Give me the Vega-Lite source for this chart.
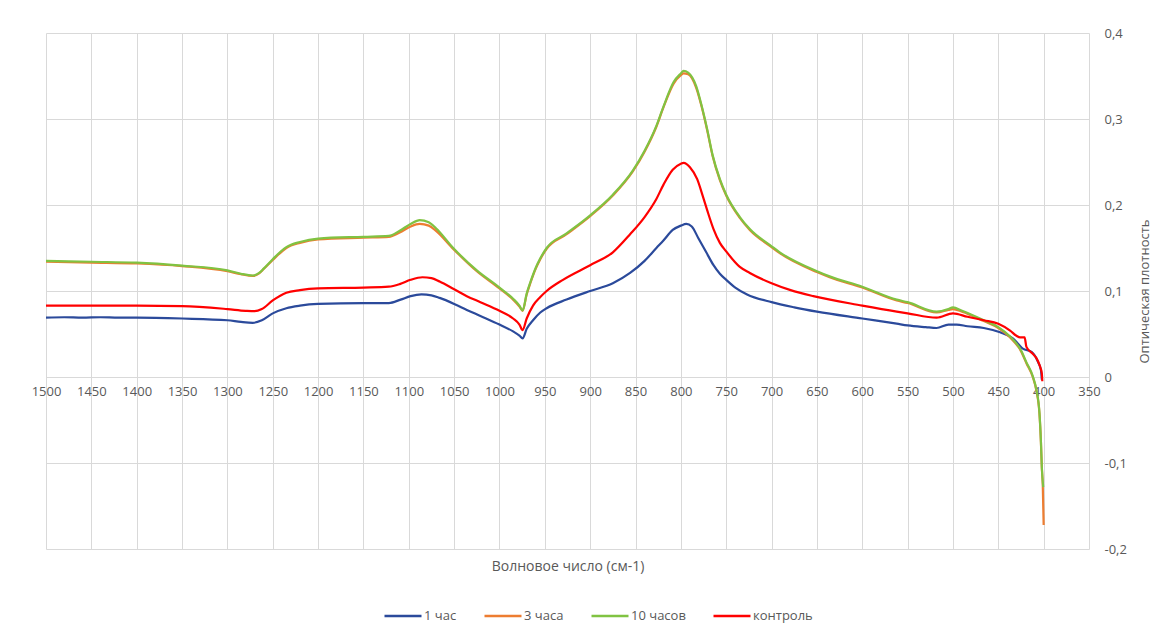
{
  "$schema": "https://vega.github.io/schema/vega-lite/v6.json",
  "width": 1043,
  "height": 516,
  "autosize": {"type": "none"},
  "padding": {"left": 46, "top": 33, "right": 78, "bottom": 88},
  "background": "white",
  "config": {
    "view": {"stroke": null},
    "font": "Open Sans",
    "axis": {"labelColor": "#595959", "titleColor": "#595959", "gridColor": "#d9d9d9", "gridWidth": 1, "domain": false, "ticks": false, "labelFontSize": 13, "titleFontWeight": "normal", "titleFontSize": 14},
    "legend": {"labelColor": "#595959", "labelFontSize": 13}
  },
  "data": {"values": [
    {"series":"1 час","wn":1500,"od":0.069},{"series":"1 час","wn":1480,"od":0.0695},{"series":"1 час","wn":1460,"od":0.069},{"series":"1 час","wn":1440,"od":0.0695},{"series":"1 час","wn":1420,"od":0.069},{"series":"1 час","wn":1400,"od":0.069},{"series":"1 час","wn":1350,"od":0.068},{"series":"1 час","wn":1300,"od":0.066},{"series":"1 час","wn":1285,"od":0.064},{"series":"1 час","wn":1272,"od":0.063},{"series":"1 час","wn":1262,"od":0.066},{"series":"1 час","wn":1250,"od":0.074},{"series":"1 час","wn":1235,"od":0.08},{"series":"1 час","wn":1220,"od":0.083},{"series":"1 час","wn":1200,"od":0.085},{"series":"1 час","wn":1150,"od":0.086},{"series":"1 час","wn":1122,"od":0.086},{"series":"1 час","wn":1109,"od":0.09},{"series":"1 час","wn":1098,"od":0.094},{"series":"1 час","wn":1086,"od":0.096},{"series":"1 час","wn":1075,"od":0.095},{"series":"1 час","wn":1066,"od":0.092},{"series":"1 час","wn":1050,"od":0.085},{"series":"1 час","wn":1036,"od":0.078},{"series":"1 час","wn":1021,"od":0.071},{"series":"1 час","wn":1000,"od":0.061},{"series":"1 час","wn":985,"od":0.053},{"series":"1 час","wn":978,"od":0.048},{"series":"1 час","wn":974.5,"od":0.045},{"series":"1 час","wn":970,"od":0.056},{"series":"1 час","wn":963,"od":0.066},{"series":"1 час","wn":955,"od":0.075},{"series":"1 час","wn":948,"od":0.08},{"series":"1 час","wn":926,"od":0.09},{"series":"1 час","wn":900,"od":0.1},{"series":"1 час","wn":875,"od":0.109},{"series":"1 час","wn":856,"od":0.121},{"series":"1 час","wn":840,"od":0.135},{"series":"1 час","wn":827,"od":0.15},{"series":"1 час","wn":819,"od":0.159},{"series":"1 час","wn":809,"od":0.171},{"series":"1 час","wn":800,"od":0.176},{"series":"1 час","wn":794,"od":0.178},{"series":"1 час","wn":788,"od":0.175},{"series":"1 час","wn":781,"od":0.162},{"series":"1 час","wn":772,"od":0.145},{"series":"1 час","wn":764,"od":0.13},{"series":"1 час","wn":757,"od":0.12},{"series":"1 час","wn":750,"od":0.113},{"series":"1 час","wn":740,"od":0.104},{"series":"1 час","wn":727,"od":0.096},{"series":"1 час","wn":700,"od":0.087},{"series":"1 час","wn":675,"od":0.081},{"series":"1 час","wn":650,"od":0.076},{"series":"1 час","wn":600,"od":0.068},{"series":"1 час","wn":562,"od":0.062},{"series":"1 час","wn":550,"od":0.06},{"series":"1 час","wn":530,"od":0.058},{"series":"1 час","wn":518,"od":0.057},{"series":"1 час","wn":505,"od":0.061},{"series":"1 час","wn":496,"od":0.061},{"series":"1 час","wn":484,"od":0.059},{"series":"1 час","wn":466,"od":0.057},{"series":"1 час","wn":448,"od":0.052},{"series":"1 час","wn":434,"od":0.045},{"series":"1 час","wn":423,"od":0.033},{"series":"1 час","wn":413,"od":0.029},{"series":"1 час","wn":406,"od":0.017},{"series":"1 час","wn":403,"od":0.008},{"series":"1 час","wn":402,"od":-0.003},

    {"series":"3 часа","wn":1500,"od":0.134},{"series":"3 часа","wn":1450,"od":0.133},{"series":"3 часа","wn":1400,"od":0.132},{"series":"3 часа","wn":1350,"od":0.129},{"series":"3 часа","wn":1300,"od":0.123},{"series":"3 часа","wn":1285,"od":0.1195},{"series":"3 часа","wn":1272,"od":0.1175},{"series":"3 часа","wn":1265,"od":0.1205},{"series":"3 часа","wn":1260,"od":0.1255},{"series":"3 часа","wn":1250,"od":0.136},{"series":"3 часа","wn":1235,"od":0.15},{"series":"3 часа","wn":1220,"od":0.156},{"series":"3 часа","wn":1200,"od":0.16},{"series":"3 часа","wn":1150,"od":0.162},{"series":"3 часа","wn":1122,"od":0.163},{"series":"3 часа","wn":1110,"od":0.168},{"series":"3 часа","wn":1098,"od":0.175},{"series":"3 часа","wn":1088,"od":0.178},{"series":"3 часа","wn":1078,"od":0.176},{"series":"3 часа","wn":1070,"od":0.17},{"series":"3 часа","wn":1051,"od":0.149},{"series":"3 часа","wn":1025,"od":0.123},{"series":"3 часа","wn":1000,"od":0.103},{"series":"3 часа","wn":985,"od":0.09},{"series":"3 часа","wn":978,"od":0.082},{"series":"3 часа","wn":974.5,"od":0.077},{"series":"3 часа","wn":970,"od":0.096},{"series":"3 часа","wn":966,"od":0.109},{"series":"3 часа","wn":960,"od":0.126},{"series":"3 часа","wn":955,"od":0.137},{"series":"3 часа","wn":948,"od":0.149},{"series":"3 часа","wn":926,"od":0.166},{"series":"3 часа","wn":900,"od":0.187},{"series":"3 часа","wn":875,"od":0.211},{"series":"3 часа","wn":853,"od":0.239},{"series":"3 часа","wn":840,"od":0.262},{"series":"3 часа","wn":827,"od":0.291},{"series":"3 часа","wn":819,"od":0.314},{"series":"3 часа","wn":808,"od":0.341},{"series":"3 часа","wn":800,"od":0.351},{"series":"3 часа","wn":797,"od":0.353},{"series":"3 часа","wn":792,"od":0.352},{"series":"3 часа","wn":783,"od":0.336},{"series":"3 часа","wn":777,"od":0.314},{"series":"3 часа","wn":771,"od":0.287},{"series":"3 часа","wn":765,"od":0.257},{"series":"3 часа","wn":757,"od":0.229},{"series":"3 часа","wn":750,"od":0.211},{"series":"3 часа","wn":735,"od":0.185},{"series":"3 часа","wn":724,"od":0.171},{"series":"3 часа","wn":700,"od":0.151},{"series":"3 часа","wn":691,"od":0.144},{"series":"3 часа","wn":650,"od":0.122},{"series":"3 часа","wn":636,"od":0.116},{"series":"3 часа","wn":600,"od":0.104},{"series":"3 часа","wn":562,"od":0.089},{"series":"3 часа","wn":550,"od":0.086},{"series":"3 часа","wn":518,"od":0.075},{"series":"3 часа","wn":505,"od":0.078},{"series":"3 часа","wn":500,"od":0.079},{"series":"3 часа","wn":490,"od":0.076},{"series":"3 часа","wn":466,"od":0.065},{"series":"3 часа","wn":450,"od":0.057},{"series":"3 часа","wn":437,"od":0.046},{"series":"3 часа","wn":425,"od":0.03},{"series":"3 часа","wn":419,"od":0.016},{"series":"3 часа","wn":412,"od":0.0},{"series":"3 часа","wn":408,"od":-0.016},{"series":"3 часа","wn":404.6,"od":-0.043},{"series":"3 часа","wn":403,"od":-0.076},{"series":"3 часа","wn":402,"od":-0.106},{"series":"3 часа","wn":401,"od":-0.125},{"series":"3 часа","wn":400,"od":-0.172},

    {"series":"10 часов","wn":1500,"od":0.135},{"series":"10 часов","wn":1450,"od":0.134},{"series":"10 часов","wn":1400,"od":0.133},{"series":"10 часов","wn":1350,"od":0.1295},{"series":"10 часов","wn":1300,"od":0.124},{"series":"10 часов","wn":1285,"od":0.12},{"series":"10 часов","wn":1272,"od":0.118},{"series":"10 часов","wn":1265,"od":0.121},{"series":"10 часов","wn":1260,"od":0.126},{"series":"10 часов","wn":1250,"od":0.137},{"series":"10 часов","wn":1235,"od":0.151},{"series":"10 часов","wn":1220,"od":0.157},{"series":"10 часов","wn":1200,"od":0.161},{"series":"10 часов","wn":1150,"od":0.163},{"series":"10 часов","wn":1122,"od":0.164},{"series":"10 часов","wn":1110,"od":0.17},{"series":"10 часов","wn":1098,"od":0.178},{"series":"10 часов","wn":1088,"od":0.1825},{"series":"10 часов","wn":1078,"od":0.18},{"series":"10 часов","wn":1070,"od":0.173},{"series":"10 часов","wn":1051,"od":0.15},{"series":"10 часов","wn":1025,"od":0.124},{"series":"10 часов","wn":1000,"od":0.104},{"series":"10 часов","wn":985,"od":0.091},{"series":"10 часов","wn":978,"od":0.083},{"series":"10 часов","wn":974.5,"od":0.0775},{"series":"10 часов","wn":970,"od":0.097},{"series":"10 часов","wn":966,"od":0.11},{"series":"10 часов","wn":960,"od":0.127},{"series":"10 часов","wn":955,"od":0.138},{"series":"10 часов","wn":948,"od":0.15},{"series":"10 часов","wn":926,"od":0.167},{"series":"10 часов","wn":900,"od":0.188},{"series":"10 часов","wn":875,"od":0.212},{"series":"10 часов","wn":853,"od":0.24},{"series":"10 часов","wn":840,"od":0.263},{"series":"10 часов","wn":827,"od":0.292},{"series":"10 часов","wn":819,"od":0.315},{"series":"10 часов","wn":808,"od":0.343},{"series":"10 часов","wn":800,"od":0.353},{"series":"10 часов","wn":797,"od":0.356},{"series":"10 часов","wn":792,"od":0.354},{"series":"10 часов","wn":783,"od":0.338},{"series":"10 часов","wn":777,"od":0.315},{"series":"10 часов","wn":771,"od":0.288},{"series":"10 часов","wn":765,"od":0.258},{"series":"10 часов","wn":757,"od":0.23},{"series":"10 часов","wn":750,"od":0.212},{"series":"10 часов","wn":735,"od":0.186},{"series":"10 часов","wn":724,"od":0.172},{"series":"10 часов","wn":700,"od":0.152},{"series":"10 часов","wn":691,"od":0.145},{"series":"10 часов","wn":650,"od":0.123},{"series":"10 часов","wn":636,"od":0.117},{"series":"10 часов","wn":600,"od":0.105},{"series":"10 часов","wn":562,"od":0.09},{"series":"10 часов","wn":550,"od":0.087},{"series":"10 часов","wn":518,"od":0.076},{"series":"10 часов","wn":505,"od":0.079},{"series":"10 часов","wn":500,"od":0.081},{"series":"10 часов","wn":490,"od":0.077},{"series":"10 часов","wn":466,"od":0.066},{"series":"10 часов","wn":450,"od":0.058},{"series":"10 часов","wn":437,"od":0.047},{"series":"10 часов","wn":425,"od":0.031},{"series":"10 часов","wn":419,"od":0.017},{"series":"10 часов","wn":412,"od":0.001},{"series":"10 часов","wn":408,"od":-0.015},{"series":"10 часов","wn":404.6,"od":-0.042},{"series":"10 часов","wn":403,"od":-0.075},{"series":"10 часов","wn":402,"od":-0.105},{"series":"10 часов","wn":400.5,"od":-0.128},

    {"series":"контроль","wn":1500,"od":0.083},{"series":"контроль","wn":1450,"od":0.083},{"series":"контроль","wn":1400,"od":0.083},{"series":"контроль","wn":1350,"od":0.0825},{"series":"контроль","wn":1300,"od":0.079},{"series":"контроль","wn":1280,"od":0.077},{"series":"контроль","wn":1270,"od":0.0765},{"series":"контроль","wn":1262,"od":0.079},{"series":"контроль","wn":1250,"od":0.089},{"series":"контроль","wn":1235,"od":0.098},{"series":"контроль","wn":1220,"od":0.101},{"series":"контроль","wn":1200,"od":0.103},{"series":"контроль","wn":1150,"od":0.104},{"series":"контроль","wn":1122,"od":0.105},{"series":"контроль","wn":1110,"od":0.108},{"series":"контроль","wn":1098,"od":0.113},{"series":"контроль","wn":1085,"od":0.116},{"series":"контроль","wn":1075,"od":0.115},{"series":"контроль","wn":1066,"od":0.111},{"series":"контроль","wn":1050,"od":0.102},{"series":"контроль","wn":1036,"od":0.094},{"series":"контроль","wn":1021,"od":0.087},{"series":"контроль","wn":1000,"od":0.077},{"series":"контроль","wn":985,"od":0.068},{"series":"контроль","wn":978,"od":0.061},{"series":"контроль","wn":974.5,"od":0.0545},{"series":"контроль","wn":970,"od":0.068},{"series":"контроль","wn":963,"od":0.083},{"series":"контроль","wn":955,"od":0.093},{"series":"контроль","wn":948,"od":0.1},{"series":"контроль","wn":930,"od":0.113},{"series":"контроль","wn":900,"od":0.13},{"series":"контроль","wn":875,"od":0.145},{"series":"контроль","wn":856,"od":0.166},{"series":"контроль","wn":840,"od":0.186},{"series":"контроль","wn":827,"od":0.207},{"series":"контроль","wn":819,"od":0.224},{"series":"контроль","wn":809,"od":0.241},{"series":"контроль","wn":800,"od":0.248},{"series":"контроль","wn":797,"od":0.249},{"series":"контроль","wn":790,"od":0.244},{"series":"контроль","wn":782,"od":0.23},{"series":"контроль","wn":776,"od":0.211},{"series":"контроль","wn":771,"od":0.194},{"series":"контроль","wn":764,"od":0.172},{"series":"контроль","wn":757,"od":0.156},{"series":"контроль","wn":750,"od":0.146},{"series":"контроль","wn":735,"od":0.128},{"series":"контроль","wn":724,"od":0.121},{"series":"контроль","wn":700,"od":0.109},{"series":"контроль","wn":679,"od":0.101},{"series":"контроль","wn":654,"od":0.094},{"series":"контроль","wn":600,"od":0.083},{"series":"контроль","wn":562,"od":0.076},{"series":"контроль","wn":550,"od":0.074},{"series":"контроль","wn":518,"od":0.069},{"series":"контроль","wn":500,"od":0.074},{"series":"контроль","wn":484,"od":0.07},{"series":"контроль","wn":466,"od":0.066},{"series":"контроль","wn":450,"od":0.062},{"series":"контроль","wn":437,"od":0.054},{"series":"контроль","wn":430,"od":0.048},{"series":"контроль","wn":426,"od":0.046},{"series":"контроль","wn":421,"od":0.046},{"series":"контроль","wn":419,"od":0.035},{"series":"контроль","wn":412,"od":0.027},{"series":"контроль","wn":408,"od":0.022},{"series":"контроль","wn":404.6,"od":0.014},{"series":"контроль","wn":402,"od":0.004},{"series":"контроль","wn":401.5,"od":-0.005}
  ]},
  "mark": {"type": "line", "strokeWidth": 2.2, "interpolate": "monotone"},
  "encoding": {
    "x": {
      "field": "wn", "type": "quantitative",
      "scale": {"domain": [350, 1500], "reverse": true, "nice": false, "zero": false},
      "axis": {
        "orient": "bottom", "offset": -172, "format": "d",
        "values": [350,400,450,500,550,600,650,700,750,800,850,900,950,1000,1050,1100,1150,1200,1250,1300,1350,1400,1450,1500],
        "labelPadding": 8, "labelFlush": false, "labelOverlap": false,
        "title": "Волновое число (см-1)", "titlePadding": 161
      }
    },
    "y": {
      "field": "od", "type": "quantitative",
      "scale": {"domain": [-0.2, 0.4], "nice": false, "zero": false},
      "axis": {
        "orient": "right",
        "values": [-0.2,-0.1,0,0.1,0.2,0.3,0.4],
        "labelExpr": "datum.value == 0 ? '0' : replace(toString(round(datum.value*10)/10), '.', ',')",
        "labelPadding": 15,
        "title": "Оптическая плотность", "titleAngle": 270, "titlePadding": 25, "titleFontSize": 13
      }
    },
    "color": {
      "field": "series", "type": "nominal",
      "scale": {"domain": ["1 час","3 часа","10 часов","контроль"], "range": ["#2b4a9b","#ed7d31","#80c342","#ff0000"]},
      "legend": {
        "title": null, "orient": "none", "direction": "horizontal",
        "legendX": 337, "legendY": 563,
        "symbolType": "stroke", "symbolSize": 1369, "symbolStrokeWidth": 2.5,
        "labelOffset": 1, "columnPadding": 22
      }
    }
  }
}
